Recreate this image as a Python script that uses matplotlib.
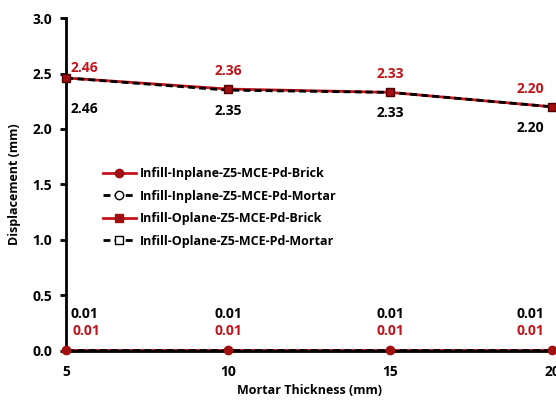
import matplotlib
matplotlib.use("Agg")
import matplotlib.pyplot as plt
from matplotlib.lines import Line2D

plt.rcParams['font.family'] = ['Open Sans', 'DejaVu Sans']
plt.rcParams['font.weight'] = 'bold'

thickness = [5, 10, 15, 20]
inplane_brick = [0.01, 0.01, 0.01, 0.01]
inplane_mortar = [0.01, 0.01, 0.01, 0.01]
oplane_brick = [2.46, 2.36, 2.33, 2.20]
oplane_mortar = [2.46, 2.35, 2.33, 2.20]
names = ['Infill-Inplane-Z5-MCE-Pd-Brick', 'Infill-Inplane-Z5-MCE-Pd-Mortar',
         'Infill-Oplane-Z5-MCE-Pd-Brick', 'Infill-Oplane-Z5-MCE-Pd-Mortar']

RED = '#c0151b'
DRED = '#a01010'

fig = plt.figure(figsize=(5.56, 4.01), dpi=100)
ax = fig.add_axes([0.119, 0.125, 0.874, 0.830])

# red solid lines
ax.plot(thickness, inplane_brick, color=RED, lw=2, zorder=2, clip_on=False)
ax.plot(thickness, oplane_brick, color=RED, lw=2, zorder=2, clip_on=False)
# black dashed lines
ax.plot(thickness, inplane_mortar, color='black', lw=2, ls=(0, (2.5, 1.5)), zorder=3, clip_on=False)
ax.plot(thickness, oplane_mortar, color='black', lw=2, ls=(0, (2.5, 1.5)), zorder=3, clip_on=False)
# markers on top
ax.plot(thickness, inplane_brick, ls='none', marker='o', ms=6, color=DRED, zorder=5, clip_on=False)
ax.plot(thickness, oplane_brick, ls='none', marker='s', ms=6, color=DRED, mec='#500000', zorder=5, clip_on=False)

ax.set_xlim(5, 20)
ax.set_ylim(0, 3.0)
ax.set_xticks([5, 10, 15, 20])
ax.set_yticks([0.0, 0.5, 1.0, 1.5, 2.0, 2.5, 3.0])
ax.set_yticklabels([f'{v:.1f}' for v in [0.0, 0.5, 1.0, 1.5, 2.0, 2.5, 3.0]])
for s in ['top', 'right']:
    ax.spines[s].set_visible(False)
ax.spines['left'].set_linewidth(2)
ax.spines['bottom'].set_linewidth(2)
ax.tick_params(axis='y', length=4, width=2, labelsize=10, pad=6)
ax.tick_params(axis='x', length=0, labelsize=10, pad=10)
for lab in ax.get_xticklabels() + ax.get_yticklabels():
    lab.set_fontweight('bold')

ax.set_xlabel('Mortar Thickness (mm)', fontsize=9, fontweight='bold', labelpad=4)
ax.set_ylabel('Displacement (mm)', fontsize=9, fontweight='bold', labelpad=8)

# data labels
for i, x in enumerate(thickness):
    dx = 18 if i == 0 else (-22 if i == 3 else 0)
    ax.annotate(f'{oplane_brick[i]:.2f}', (x, oplane_brick[i]), xytext=(dx, 18 if i else 10),
                textcoords='offset pixels', ha='center', va='center', color=RED,
                fontsize=10, fontweight='bold', annotation_clip=False)
    ax.annotate(f'{oplane_mortar[i]:.2f}', (x, oplane_mortar[i]), xytext=(dx, -21 if i else -31),
                textcoords='offset pixels', ha='center', va='center', color='black',
                fontsize=10, fontweight='bold', annotation_clip=False)
    ax.annotate(f'{inplane_mortar[i]:.2f}', (x, inplane_mortar[i]), xytext=(dx, 36),
                textcoords='offset pixels', ha='center', va='center', color='black',
                fontsize=10, fontweight='bold', annotation_clip=False)
    ax.annotate(f'{inplane_brick[i]:.2f}', (x, inplane_brick[i]), xytext=(dx + (2 if i == 0 else 0), 19),
                textcoords='offset pixels', ha='center', va='center', color=RED,
                fontsize=10, fontweight='bold', annotation_clip=False)

handles = [
    Line2D([], [], color=RED, lw=2, marker='o', ms=6, mfc=DRED, mec=DRED),
    Line2D([], [], color='black', lw=2, ls=(0, (2.5, 1.5)), marker='o', ms=6, mfc='white', mec='black'),
    Line2D([], [], color=RED, lw=2, marker='s', ms=6, mfc=DRED, mec=DRED),
    Line2D([], [], color='black', lw=2, ls=(0, (2.5, 1.5)), marker='s', ms=6, mfc='white', mec='black'),
]
leg = ax.legend(handles, names, loc='upper left', bbox_to_anchor=(0.053, 0.585), frameon=False,
                handlelength=2.6, handletextpad=0.35, labelspacing=0.75,
                prop={'weight': 'bold', 'size': 9})

fig.savefig('out.png', dpi=100)
